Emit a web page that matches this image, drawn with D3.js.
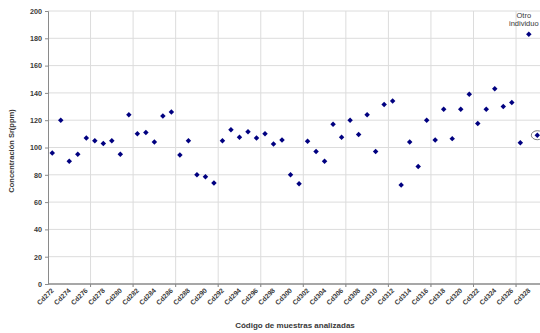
<!DOCTYPE html>
<html>
<head>
<meta charset="utf-8">
<script src="https://cdn.jsdelivr.net/npm/d3@7"></script>
<style>
  body { margin: 0; background: #fff; }
  svg { display: block; font-family: "Liberation Sans", Arial, sans-serif; }
</style>
</head>
<body>
<div id="chart"></div>
<script>
// sample codes, one per measured bone
var codes = ["Cd272","Cd273","Cd274","Cd275","Cd276","Cd277","Cd278","Cd279","Cd280","Cd281",
  "Cd282","Cd283","Cd284","Cd285","Cd286","Cd287","Cd288","Cd289","Cd290","Cd291",
  "Cd292","Cd293","Cd294","Cd295","Cd296","Cd297","Cd298","Cd299","Cd300","Cd301",
  "Cd302","Cd303","Cd304","Cd305","Cd306","Cd307","Cd308","Cd309","Cd310","Cd311",
  "Cd312","Cd313","Cd314","Cd315","Cd316","Cd317","Cd318","Cd319","Cd320","Cd321",
  "Cd322","Cd323","Cd324","Cd325","Cd326","Cd327","Cd328","Cd329"];

// Sr concentration (ppm)
var srValues = [96, 120, 90, 95, 107, 105, 103, 105, 95, 124,
  110, 111, 104, 123, 126, 94.5, 105, 80, 78.5, 74,
  105, 113, 107.5, 111.5, 107, 110, 102.5, 105.5, 80, 73.5,
  104.5, 97, 90, 117, 107.5, 120, 109.5, 124, 97, 131.5,
  134, 72.5, 104, 86, 120, 105.5, 128, 106.5, 128, 139,
  117.5, 128, 143, 130, 133, 103.5, 183, 109];

var yTicks = [0, 20, 40, 60, 80, 100, 120, 140, 160, 180, 200];
var xLabelCodes = codes.filter(function(d, i){ return i % 2 === 0 && i < 57; });
var gridCodes = codes.filter(function(d, i){ return i % 5 === 0 && i > 0; });
var outlierCode = "Cd328";   // "Otro individuo"
var circledCode = "Cd329";

var W = 540, H = 333;
var plotL = 48, plotT = 11, plotB = 284, plotR = 48 + 58 * 8.51;
var textCol = "#383838";

var svg = d3.select("#chart").append("svg")
  .attr("width", W).attr("height", H);

var x = d3.scaleBand().domain(codes).range([plotL, plotR]).padding(0);
var y = d3.scaleLinear().domain([0, 200]).range([plotB, plotT]);

// horizontal gridlines
svg.append("g").selectAll("line")
  .data(yTicks.filter(function(d){ return d > 0; }))
  .enter().append("line")
  .attr("x1", plotL).attr("x2", W)
  .attr("y1", function(d){ return y(d); }).attr("y2", function(d){ return y(d); })
  .attr("stroke", "#dcdcdc").attr("stroke-width", 1);

// vertical gridlines every 5 samples
svg.append("g").selectAll("line")
  .data(gridCodes)
  .enter().append("line")
  .attr("x1", function(d){ return x(d); }).attr("x2", function(d){ return x(d); })
  .attr("y1", plotT).attr("y2", plotB + 3)
  .attr("stroke", "#dcdcdc").attr("stroke-width", 1);

// y axis
var yAxis = svg.append("g")
  .attr("transform", "translate(" + plotL + ",0)")
  .call(d3.axisLeft(y).tickValues(yTicks).tickSize(3).tickPadding(3));
yAxis.select(".domain").attr("stroke", "#8a8a8a");
yAxis.selectAll(".tick line").attr("stroke", "#8a8a8a");
yAxis.selectAll("text")
  .attr("font-size", 7.2).attr("font-weight", "bold").attr("fill", textCol)
  .attr("font-family", "Liberation Sans, Arial, sans-serif");

// x axis line + ticks at gridlines
svg.append("line")
  .attr("x1", plotL).attr("x2", W)
  .attr("y1", plotB).attr("y2", plotB)
  .attr("stroke", "#8a8a8a").attr("stroke-width", 1.3);
svg.append("g").selectAll("line")
  .data(gridCodes)
  .enter().append("line")
  .attr("x1", function(d){ return x(d); }).attr("x2", function(d){ return x(d); })
  .attr("y1", plotB).attr("y2", plotB + 3)
  .attr("stroke", "#8a8a8a");

// rotated sample labels
svg.append("g").selectAll("text")
  .data(xLabelCodes)
  .enter().append("text")
  .attr("transform", function(d){
    return "translate(" + (x(d) + x.bandwidth() / 2 + 2) + "," + (plotB + 7) + ") rotate(-45)";
  })
  .attr("text-anchor", "end")
  .attr("font-size", 6.8).attr("font-weight", "bold").attr("fill", textCol)
  .text(function(d){ return d; });

// points
svg.append("g").selectAll("path")
  .data(srValues)
  .enter().append("path")
  .attr("d", d3.symbol().type(d3.symbolSquare).size(15))
  .attr("transform", function(d, i){
    return "translate(" + (x(codes[i]) + x.bandwidth() / 2) + "," + y(d) + ") rotate(45)";
  })
  .attr("fill", "#000080");

// circled sample
var ci = codes.indexOf(circledCode);
svg.append("ellipse")
  .attr("cx", x(circledCode) + x.bandwidth() / 2)
  .attr("cy", y(srValues[ci]))
  .attr("rx", 6).attr("ry", 4.5)
  .attr("fill", "none").attr("stroke", "#707070").attr("stroke-width", 0.9);

// annotation for the outlier
var ox = x(outlierCode) + x.bandwidth() / 2 - 5;
var note = svg.append("text")
  .attr("text-anchor", "middle").attr("font-size", 7.5).attr("fill", textCol);
note.append("tspan").attr("x", ox).attr("y", 18).text("Otro");
note.append("tspan").attr("x", ox).attr("y", 26).text("individuo");

// axis titles
svg.append("text")
  .attr("transform", "translate(14,151) rotate(-90)")
  .attr("text-anchor", "middle")
  .attr("font-size", 7.5).attr("font-weight", "bold").attr("fill", textCol)
  .text("Concentración Sr(ppm)");

svg.append("text")
  .attr("x", 295).attr("y", 328)
  .attr("text-anchor", "middle")
  .attr("font-size", 8).attr("font-weight", "bold").attr("fill", textCol)
  .text("Código de muestras analizadas");
</script>
</body>
</html>
